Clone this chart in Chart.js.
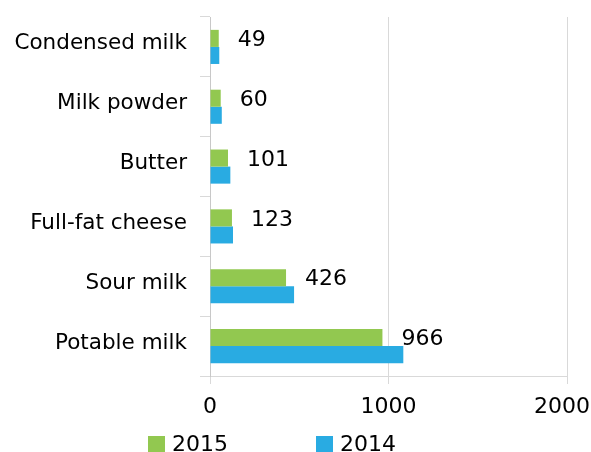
<!DOCTYPE html>
<html>
<head>
<meta charset="utf-8">
<title>Dairy production</title>
<script src="https://cdn.jsdelivr.net/npm/chart.js@4.4.1/dist/chart.umd.min.js"></script>
<style>
  html, body { margin: 0; padding: 0; background: #fff; }
  #wrap { width: 591px; height: 452px; }
</style>
</head>
<body>
<div id="wrap"><canvas id="chart" width="591" height="452"></canvas></div>
<script>
// ── Data ──────────────────────────────────────────────────────────────────────
const CATEGORIES  = ['Condensed milk', 'Milk powder', 'Butter', 'Full-fat cheese', 'Sour milk', 'Potable milk'];
const VALUES_2015 = [49, 60, 101, 123, 426, 966];
const VALUES_2014 = [52, 66, 114, 129, 471, 1083];
const SERIES_NAMES = ['2015', '2014'];
const X_TICKS     = [0, 1000, 2000];

const GREEN = '#92c850';
const BLUE  = '#29abe2';
const GRID  = '#d9d9d9';
const FONT  = "'DejaVu Sans', sans-serif";

// ── Plugins ───────────────────────────────────────────────────────────────────

// value labels to the right of the 2015 bars only
const valueLabels = {
  id: 'valueLabels',
  afterDatasetsDraw(chart) {
    const ctx  = chart.ctx;
    const meta = chart.getDatasetMeta(0);
    const data = chart.data.datasets[0].data;
    ctx.save();
    ctx.font = `22px ${FONT}`;
    ctx.fillStyle = '#000';
    ctx.textAlign = 'left';
    ctx.textBaseline = 'middle';
    meta.data.forEach((bar, i) => {
      ctx.fillText(String(data[i]), bar.x + 19, bar.y + 2);
    });
    ctx.restore();
  }
};

// legend row under the axis, spaced wider than the built-in legend allows
const bottomKey = {
  id: 'bottomKey',
  afterDraw(chart, args, opts) {
    const ctx = chart.ctx;
    ctx.save();
    ctx.font = `22px ${FONT}`;
    ctx.textAlign = 'left';
    ctx.textBaseline = 'alphabetic';
    chart.data.datasets.forEach((ds, i) => {
      const x = opts.left + i * opts.step;
      ctx.fillStyle = ds.backgroundColor;
      ctx.fillRect(x, opts.top, 17, 16);
      ctx.fillStyle = '#000';
      ctx.fillText(ds.label, x + 24, opts.top + 15);
    });
    ctx.restore();
  }
};

// pull the last x tick label inside the canvas, right-aligned to its edge
const edgeTick = {
  id: 'edgeTick',
  beforeDraw(chart) {
    const items = chart.scales.x.getLabelItems();
    const last  = items[items.length - 1];
    if (!last) return;
    last.options.textAlign = 'right';
    last.options.translation = [chart.width - 1, last.options.translation[1]];
  }
};

// ── Chart ─────────────────────────────────────────────────────────────────────
new Chart(document.getElementById('chart'), {
  type: 'bar',
  data: {
    labels: CATEGORIES,
    datasets: [
      { label: SERIES_NAMES[0], data: VALUES_2015, backgroundColor: GREEN },
      { label: SERIES_NAMES[1], data: VALUES_2014, backgroundColor: BLUE }
    ]
  },
  options: {
    indexAxis: 'y',
    responsive: false,
    animation: false,
    devicePixelRatio: 1,
    barPercentage: 1,
    categoryPercentage: 0.57,
    layout: { padding: { top: 17, left: 0, right: 0, bottom: 34 } },
    scales: {
      x: {
        min: 0,
        max: 2000,
        afterBuildTicks: (s) => { s.ticks = X_TICKS.map(v => ({ value: v })); },
        afterFit: (s) => { s.height = 42; s.paddingRight = 24; },
        ticks: {
          color: '#000',
          padding: 10,
          font: { family: FONT, size: 22 },
          callback: (v) => String(v)
        },
        grid: { color: GRID, tickLength: 8, tickColor: GRID },
        border: { color: GRID }
      },
      y: {
        afterFit: (s) => { s.width = 210; s.paddingTop = 0; s.paddingBottom = 0; },
        ticks: {
          color: '#000',
          padding: 13,
          labelOffset: -3,
          font: { family: FONT, size: 21.5 }
        },
        grid: { drawOnChartArea: false, offset: true, tickLength: 10, color: GRID },
        border: { color: '#c8c8c8' }
      }
    },
    plugins: {
      legend: { display: false },
      tooltip: { enabled: false },
      bottomKey: { left: 148, step: 168, top: 436 }
    }
  },
  plugins: [valueLabels, bottomKey, edgeTick]
});
</script>
</body>
</html>
